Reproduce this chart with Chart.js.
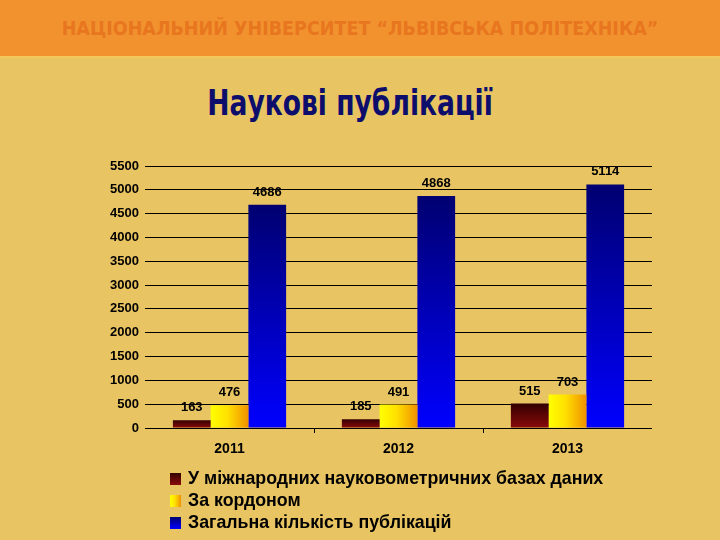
<!DOCTYPE html>
<html>
<head>
<meta charset="utf-8">
<script src="https://cdn.jsdelivr.net/npm/chart.js@4"></script>
<style>
  body { margin: 0; width: 720px; height: 540px; background: #E9C463; position: relative; overflow: hidden; font-family: Arial, "Liberation Sans", sans-serif; }
  #header { position: absolute; left: 0; top: 0; width: 720px; height: 56px; background: #F2922F; border-bottom: 2px solid #F4C85A; }
  #header span { position: absolute; left: 0; width: 720px; top: 17px; text-align: center; color: #E8761E; font-family: "DejaVu Sans Condensed", Arial; font-weight: bold; font-size: 19.5px; }
  #titleWrap { position: absolute; left: 0; width: 700px; top: 82px; text-align: center; }
  #title { display: inline-block; transform: scaleX(0.82); color: #0D0D6B; font-family: "DejaVu Sans Condensed", Arial; font-weight: bold; font-size: 36px; }
  #myChart { position: absolute; left: 0; top: 0; }
  #legend { position: absolute; left: 170px; top: 467px; font-weight: bold; font-size: 17.8px; color: #000; }
  #legend div { height: 22px; line-height: 22px; white-space: nowrap; }
  #legend i { display: inline-block; width: 11px; height: 12px; margin-right: 7px; vertical-align: -1px; }
</style>
</head>
<body>
<div id="header"><span>НАЦІОНАЛЬНИЙ УНІВЕРСИТЕТ “ЛЬВІВСЬКА ПОЛІТЕХНІКА”</span></div>
<div id="titleWrap"><span id="title">Наукові публікації</span></div>
<canvas id="myChart" width="720" height="540"></canvas>
<div id="legend"></div>

<script>
const years = ['2011', '2012', '2013'];
const seriesNames = [
    'У міжнародних науковометричних базах даних',
    'За кордоном',
    'Загальна кількість публікацій'
];
const intlDb = [163, 185, 515];
const abroad = [476, 491, 703];
const total = [4686, 4868, 5114];
const yTicks = [0, 500, 1000, 1500, 2000, 2500, 3000, 3500, 4000, 4500, 5000, 5500];

const catPct = 0.67;

// gradient per bar, built from the scales
function barFill(kind) {
    const flat = { red: '#6A0505', yellow: '#FFD000', blue: '#0000C0' }[kind];
    return function (c) {
        const chart = c.chart;
        const y = chart.scales.y, x = chart.scales.x;
        if (!y || !x || !c.parsed) return flat;
        const top = y.getPixelForValue(c.parsed.y);
        const bottom = y.getPixelForValue(0);
        const cx = x.getPixelForValue(c.dataIndex);
        if (!isFinite(top) || !isFinite(bottom) || !isFinite(cx) || top == bottom) return flat;
        const ctx = chart.ctx;
        let g;
        if (kind == 'red') {
            g = ctx.createLinearGradient(0, top, 0, bottom);
            g.addColorStop(0, '#330000');
            g.addColorStop(1, '#8A0A0A');
        } else if (kind == 'blue') {
            g = ctx.createLinearGradient(0, top, 0, bottom);
            g.addColorStop(0, '#000070');
            g.addColorStop(1, '#0000FF');
        } else {
            const bw = x.width / years.length * catPct / 3;
            g = ctx.createLinearGradient(cx - bw / 2, 0, cx + bw / 2, 0);
            g.addColorStop(0, '#FFFF00');
            g.addColorStop(0.45, '#FFE000');
            g.addColorStop(1, '#F09000');
        }
        return g;
    };
}

const valueLabels = {
    id: 'valueLabels',
    afterDatasetsDraw(chart) {
        const ctx = chart.ctx;
        ctx.save();
        ctx.font = 'bold 13px Arial';
        ctx.fillStyle = '#000';
        ctx.textAlign = 'center';
        ctx.textBaseline = 'bottom';
        chart.data.datasets.forEach(function (ds, i) {
            chart.getDatasetMeta(i).data.forEach(function (bar, j) {
                ctx.fillText(ds.data[j], bar.x, bar.y - 6);
            });
        });
        ctx.restore();
    }
};

const ctx = document.getElementById('myChart');
new Chart(ctx, {
    type: 'bar',
    data: {
        labels: years,
        datasets: [
            { label: seriesNames[0], data: intlDb, backgroundColor: barFill('red') },
            { label: seriesNames[1], data: abroad, backgroundColor: barFill('yellow') },
            { label: seriesNames[2], data: total, backgroundColor: barFill('blue') }
        ]
    },
    options: {
        responsive: false,
        animation: false,
        layout: { padding: { left: 95, right: 68, top: 166, bottom: 72 } },
        datasets: { bar: { categoryPercentage: catPct, barPercentage: 1.0 } },
        plugins: {
            legend: { display: false },
            tooltip: { enabled: false }
        },
        scales: {
            x: {
                afterFit: function (s) { s.height = 40; },
                border: { display: false },
                grid: {
                    offset: true,
                    drawOnChartArea: false,
                    tickLength: 5,
                    // only the ticks between the years
                    color: function (c) { return (c.index >= 1 && c.index < years.length) ? '#000' : 'rgba(0,0,0,0)'; }
                },
                ticks: { color: '#000', padding: 8, font: { family: 'Arial', size: 14, weight: 'bold' } }
            },
            y: {
                min: 0,
                max: 5500,
                afterFit: function (s) { s.width = 50; },
                afterBuildTicks: function (s) { s.ticks = yTicks.map(v => ({ value: v })); },
                border: { display: false },
                grid: { color: '#000', lineWidth: 1, drawTicks: false },
                ticks: {
                    color: '#000', padding: 6, font: { family: 'Arial', size: 13, weight: 'bold' },
                    callback: function (v) { return String(v); }
                }
            }
        }
    },
    plugins: [valueLabels]
});

// legend as page text
const swatches = [
    'linear-gradient(#330000, #8A0A0A)',
    'linear-gradient(to right, #FFFF00, #FFE000 45%, #F09000)',
    'linear-gradient(#000070, #0000FF)'
];
const legendEl = document.getElementById('legend');
seriesNames.forEach(function (name, i) {
    const row = document.createElement('div');
    const sw = document.createElement('i');
    sw.style.background = swatches[i];
    row.appendChild(sw);
    row.appendChild(document.createTextNode(name));
    legendEl.appendChild(row);
});
</script>
</body>
</html>
